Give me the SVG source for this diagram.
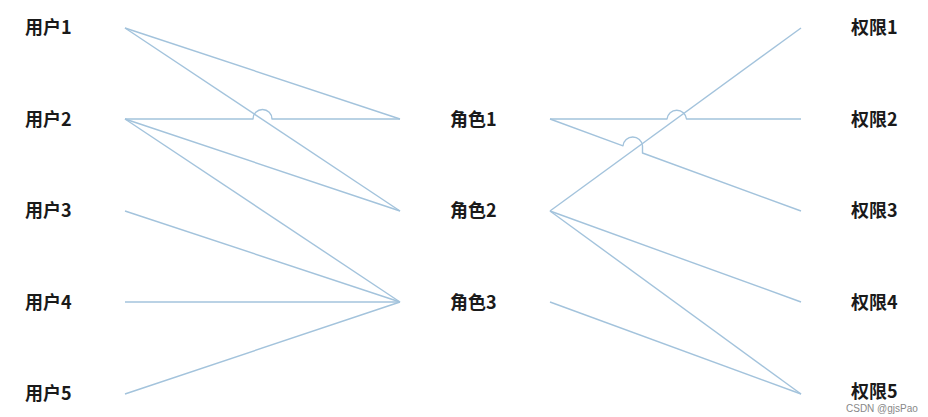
<svg xmlns="http://www.w3.org/2000/svg" width="928" height="417" viewBox="0 0 928 417">
<style>
.lbl{font-family:"Noto Sans CJK SC","Noto Sans",sans-serif;font-size:18px;font-weight:bold;fill:#1a1a1a}
.ln{fill:none;stroke:#a3c3dc;stroke-width:1.4;stroke-linejoin:round}
.wm{font-family:"Liberation Sans",sans-serif;font-size:10px;fill:#888}
</style>
<rect width="928" height="417" fill="#fff"/>
<g id="connectors">
<path class="ln" d="M125 28 L400 119"/>
<path class="ln" d="M125 28 L400 211"/>
<path class="ln" d="M125 119 L253 119 A9.5 9.5 0 0 1 272 119 L400 119"/>
<path class="ln" d="M125 119 L400 211"/>
<path class="ln" d="M125 119 L400 302"/>
<path class="ln" d="M125 211 L400 302"/>
<path class="ln" d="M125 302 L400 302"/>
<path class="ln" d="M125 394 L400 302"/>
<path class="ln" d="M550 119 L667 119 A9.8 9.8 0 0 1 686.5 119 L801 119"/>
<path class="ln" d="M550 119 L623 145.8 A9.8 9.8 0 0 1 642.5 145.8 L642.5 153 L801 211"/>
<path class="ln" d="M550 211 L801 28"/>
<path class="ln" d="M550 211 L801 302"/>
<path class="ln" d="M550 211 L801 394"/>
<path class="ln" d="M550 302 L801 394"/>
</g>
<g id="user1"><text class="lbl" x="25" y="34">用户1</text></g>
<g id="user2"><text class="lbl" x="25" y="126">用户2</text></g>
<g id="user3"><text class="lbl" x="25" y="217">用户3</text></g>
<g id="user4"><text class="lbl" x="25" y="309">用户4</text></g>
<g id="user5"><text class="lbl" x="25" y="400">用户5</text></g>
<g id="role1"><text class="lbl" x="450" y="126">角色1</text></g>
<g id="role2"><text class="lbl" x="450" y="217">角色2</text></g>
<g id="role3"><text class="lbl" x="450" y="309">角色3</text></g>
<g id="perm1"><text class="lbl" x="851" y="34">权限1</text></g>
<g id="perm2"><text class="lbl" x="851" y="126">权限2</text></g>
<g id="perm3"><text class="lbl" x="851" y="217">权限3</text></g>
<g id="perm4"><text class="lbl" x="851" y="309">权限4</text></g>
<g id="perm5"><text class="lbl" x="851" y="398">权限5</text></g>
<text class="wm" x="846" y="412">CSDN @gjsPao</text>
</svg>
